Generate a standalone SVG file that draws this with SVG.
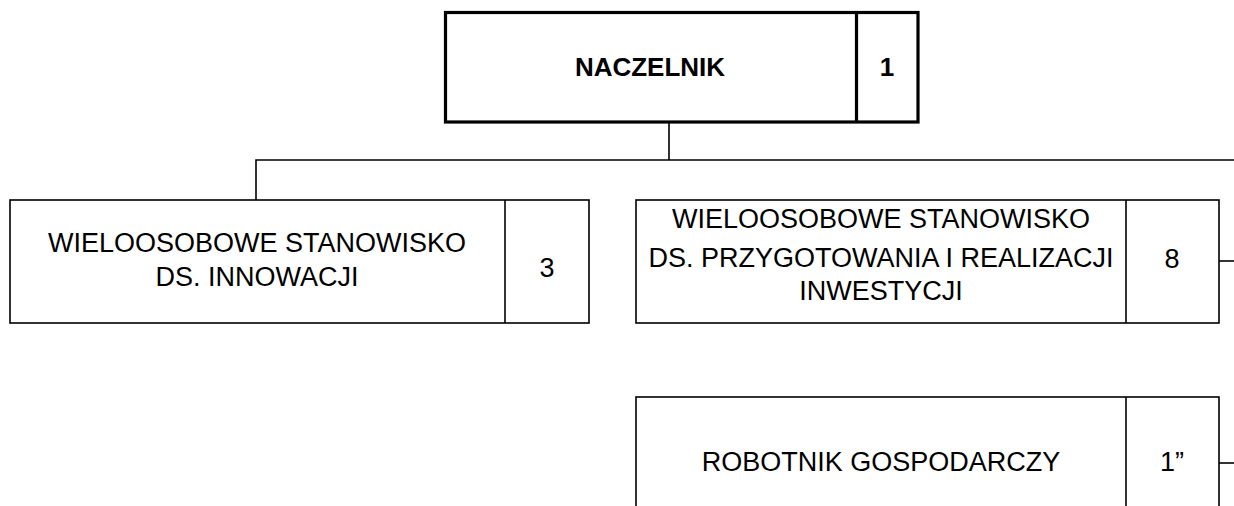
<svg xmlns="http://www.w3.org/2000/svg" width="1234" height="506" viewBox="0 0 1234 506">
<style>
.box{fill:#fff;stroke:#000;stroke-width:1.6}
.boxb{fill:#fff;stroke:#000;stroke-width:3.2}
.ln{fill:none;stroke:#000;stroke-width:1.6}
.t{font-family:"Liberation Sans",Arial,sans-serif;font-size:27px;fill:#000;text-anchor:middle}
.tb{font-family:"Liberation Sans",Arial,sans-serif;font-size:26px;font-weight:bold;fill:#000;text-anchor:middle}
</style>
<rect width="1234" height="506" fill="#fff"/>
<g id="connectors">
<path class="ln" d="M669 122V160M256 200V160H1234"/>
<path class="ln" d="M1219 261H1234"/>
<path class="ln" d="M1219 463H1234"/>
</g>
<g id="naczelnik">
<rect class="boxb" x="445.5" y="12.5" width="472.5" height="109.5"/>
<line class="boxb" x1="856.5" y1="12.5" x2="856.5" y2="122"/>
<text class="tb" x="650" y="76">NACZELNIK</text>
<text class="tb" x="887" y="76">1</text>
</g>
<g id="innowacje">
<rect class="box" x="10" y="200" width="579" height="123"/>
<line class="box" x1="505" y1="200" x2="505" y2="323"/>
<text class="t" x="257" y="252">WIELOOSOBOWE STANOWISKO</text>
<text class="t" x="257" y="286">DS. INNOWACJI</text>
<text class="t" x="547" y="277">3</text>
</g>
<g id="inwestycje">
<rect class="box" x="636" y="200" width="583" height="123"/>
<line class="box" x1="1126" y1="200" x2="1126" y2="323"/>
<text class="t" x="881" y="228">WIELOOSOBOWE STANOWISKO</text>
<text class="t" x="881" y="267">DS. PRZYGOTOWANIA I REALIZACJI</text>
<text class="t" x="881" y="300">INWESTYCJI</text>
<text class="t" x="1172" y="268">8</text>
</g>
<g id="robotnik">
<rect class="box" x="636" y="397" width="583" height="130"/>
<line class="box" x1="1126" y1="397" x2="1126" y2="527"/>
<text class="t" x="881" y="471">ROBOTNIK GOSPODARCZY</text>
<text class="t" x="1172" y="471">1”</text>
</g>
</svg>
